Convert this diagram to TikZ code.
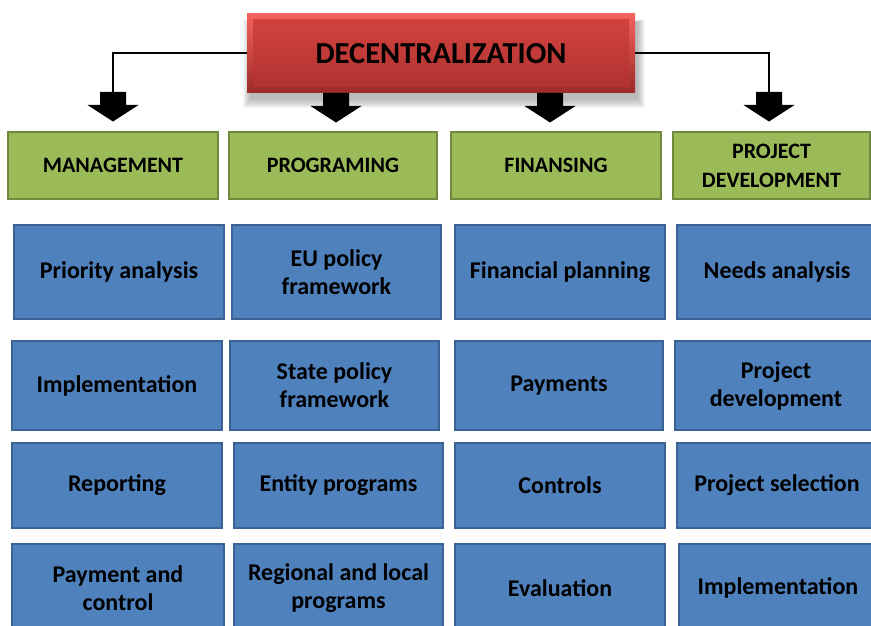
\documentclass[tikz,border=0pt]{standalone}
\usepackage{fontspec}
\setmainfont{Carlito}
\definecolor{hdrgreen}{HTML}{9BBB59}
\definecolor{hdrborder}{HTML}{71893F}
\definecolor{cellblue}{HTML}{4F81BD}
\definecolor{cellborder}{HTML}{3A6394}
\definecolor{redtop}{HTML}{F4625C}
\definecolor{redbot}{HTML}{9C2A27}
\definecolor{redintop}{HTML}{D4433F}
\definecolor{redinbot}{HTML}{AE3230}
\begin{document}
\begin{tikzpicture}[x=1pt,y=-1pt,
  hdr/.style={draw=hdrborder, line width=1.2pt, fill=hdrgreen, align=center, inner sep=0pt,
    font=\fontsize{22}{29}\selectfont\bfseries, minimum height=67pt},
  cell/.style={draw=cellborder, line width=1.2pt, fill=cellblue, align=center, inner sep=0pt,
    font=\fontsize{24}{28}\selectfont\bfseries},
  titlebox/.style={top color=redtop, bottom color=redbot, draw=none, inner sep=0pt,
    minimum width=388pt, minimum height=79pt,
    font=\fontsize{30.5}{34}\selectfont\bfseries,
    path picture={\shade[top color=redintop, bottom color=redinbot]
      ([shift={(6pt,-6pt)}]path picture bounding box.north west) rectangle
      ([shift={(-6pt,6pt)}]path picture bounding box.south east);}},
  conn/.style={draw=black, line width=2pt},
  blockarrow/.pic={\fill[black] (-13,0) -- (13,0) -- (13,13) -- (25.5,13) -- (0,29.5) -- (-25.5,13) -- (-13,13) -- cycle;}
]
\useasboundingbox (0,0) rectangle (871,626);
\fill[white] (0,0) rectangle (871,626);
\clip (0,0) rectangle (871,626);

% shadow of title
\foreach \i in {0,...,7}{
  \fill[black, opacity=0.035] (250-\i,22-\i*0.3) rectangle (638+\i,100+\i*1.2);
}

% title
\node[titlebox] (title) at (441,53.5) {\raisebox{-2pt}{DECENTRALIZATION}};

% connectors
\coordinate (aL) at (113,92);
\coordinate (aP) at (336,93);
\coordinate (aF) at (550,93);
\coordinate (aR) at (769,92);
\draw[conn] (title.west) -| (aL);
\draw[conn] (title.east) -| (aR);
\pic at (aL) {blockarrow};
\pic at (aP) {blockarrow};
\pic at (aF) {blockarrow};
\pic at (aR) {blockarrow};

% headers
\node[hdr, minimum width=210pt] (mg) at (113,165.5) {MANAGEMENT};
\node[hdr, minimum width=208pt] (pr) at (333,165.5) {PROGRAMING};
\node[hdr, minimum width=210pt] (fi) at (556,165.5) {FINANSING};
\node[hdr, minimum width=197pt] (pd) at (771.5,165.5) {PROJECT\\DEVELOPMENT};

% row 1
\node[cell, minimum width=210pt, minimum height=94pt] (a1) at (119,272) {Priority analysis};
\node[cell, minimum width=209pt, minimum height=94pt] (b1) at (336.5,272) {EU policy\\framework};
\node[cell, minimum width=210pt, minimum height=94pt] (c1) at (560,272) {Financial planning};
\node[cell, minimum width=200pt, minimum height=94pt] (d1) at (777,272) {Needs analysis};

% row 2
\node[cell, minimum width=210pt, minimum height=89pt] (a2) at (117,385.5) {Implementation};
\node[cell, minimum width=209pt, minimum height=89pt] (b2) at (334.5,385.5) {State policy\\framework};
\node[cell, minimum width=208pt, minimum height=89pt] (c2) at (559,385.5) {Payments};
\node[cell, minimum width=202pt, minimum height=89pt] (d2) at (776,385.5) {Project\\development};

% row 3
\node[cell, minimum width=210pt, minimum height=85pt] (a3) at (117,485.5) {Reporting};
\node[cell, minimum width=209pt, minimum height=85pt] (b3) at (338.5,485.5) {Entity programs};
\node[cell, minimum width=210pt, minimum height=85pt] (c3) at (560,485.5) {Controls};
\node[cell, minimum width=200pt, minimum height=85pt] (d3) at (777,485.5) {Project selection};

% row 4
\node[cell, minimum width=212pt, minimum height=88pt] (a4) at (118,588) {Payment and\\control};
\node[cell, minimum width=209pt, minimum height=88pt] (b4) at (338.5,588) {Regional and local\\programs};
\node[cell, minimum width=210pt, minimum height=88pt] (c4) at (560,588) {Evaluation};
\node[cell, minimum width=198pt, minimum height=88pt] (d4) at (778,588) {Implementation};
\end{tikzpicture}
\end{document}
